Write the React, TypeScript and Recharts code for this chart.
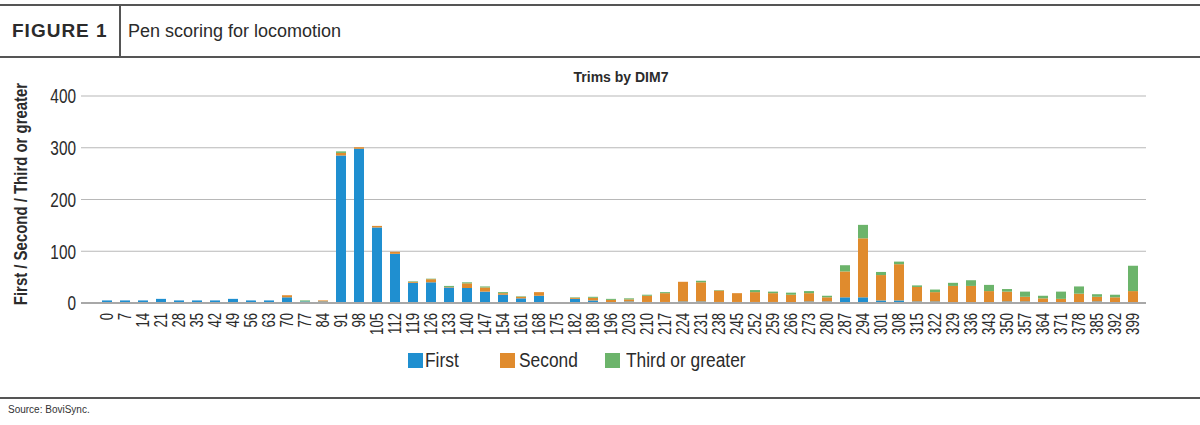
import React from "react";
import { BarChart, Bar, XAxis, YAxis, CartesianGrid, Legend, Label } from "recharts";

const categories = [
  "0","7","14","21","28","35","42","49","56","63","70","77","84","91","98","105","112","119","126","133",
  "140","147","154","161","168","175","182","189","196","203","210","217","224","231","238","245","252","259",
  "266","273","280","287","294","301","308","315","322","329","336","343","350","357","364","371","378","385","392","399",
];

const first = [
  5, 5, 5, 8, 5, 5, 5, 8, 5, 5, 11, 3, 3, 285, 298, 146, 95, 39, 40, 30,
  29, 22, 16, 9, 14, 0, 8, 5, 1, 3, 2, 2, 3, 3, 2, 2, 2, 2,
  1, 3, 3, 11, 11, 5, 5, 3, 3, 1, 1, 1, 3, 3, 0, 0, 1, 3, 0, 0,
];

const second = [
  0, 0, 0, 0, 0, 0, 0, 0, 0, 0, 4, 0, 2, 5, 3, 3, 4, 2, 6, 1,
  9, 8, 3, 3, 7, 0, 2, 5, 5, 4, 12, 17, 38, 37, 22, 17, 19, 17,
  15, 16, 8, 50, 114, 49, 70, 28, 18, 32, 32, 22, 19, 9, 9, 8, 17, 9, 11, 23,
];

const third = [
  0, 0, 0, 0, 0, 0, 0, 0, 0, 0, 0, 2, 0, 3, 0, 0, 0, 1, 1, 2,
  2, 2, 2, 1, 0, 0, 1, 2, 2, 2, 2, 2, 0, 3, 1, 0, 4, 3,
  4, 4, 3, 12, 26, 6, 5, 3, 5, 6, 11, 12, 5, 10, 5, 14, 14, 5, 5, 49,
];

const yTicks = [0, 100, 200, 300, 400];

const seriesNames = ["First", "Second", "Third or greater"];
const seriesColors = ["#1f8fd0", "#e08b2d", "#6cb46b"];

const data = categories.map((c, i) => ({
  dim: c,
  first: first[i],
  second: second[i],
  third: third[i],
}));

const SANS = "'Liberation Sans', Arial, sans-serif";
const INK = "#2b2b2b";

const XTick = (props: any) => {
  const { x, y, payload } = props;
  return (
    <text
      x={0}
      y={0}
      dy="0.35em"
      textAnchor="end"
      transform={`translate(${x}, ${y}) rotate(-90) scale(0.75, 1)`}
      fontFamily={SANS}
      fontSize={17.5}
      fill={INK}
    >
      {payload.value}
    </text>
  );
};

const YTick = (props: any) => {
  const { x, y, payload } = props;
  return (
    <text
      x={0}
      y={0}
      dy="0.36em"
      textAnchor="end"
      transform={`translate(${x}, ${y}) scale(0.75, 1)`}
      fontFamily={SANS}
      fontSize={20.5}
      fill={INK}
    >
      {payload.value}
    </text>
  );
};

const legendX = [[408, 425], [500, 519], [605, 626]];

const LegendContent = () => (
  <div style={{ position: "relative", width: 1200, height: 20 }}>
    {seriesNames.map((n, i) => (
      <React.Fragment key={n}>
        <div
          style={{
            position: "absolute",
            left: legendX[i][0],
            top: 3,
            width: 14.5,
            height: 14.5,
            background: seriesColors[i],
          }}
        />
        <div
          style={{
            position: "absolute",
            left: legendX[i][1],
            top: -1,
            fontFamily: SANS,
            fontSize: 19.5,
            lineHeight: "22px",
            color: INK,
            whiteSpace: "nowrap",
            transform: "scaleX(0.89)",
            transformOrigin: "0 0",
          }}
        >
          {n}
        </div>
      </React.Fragment>
    ))}
  </div>
);

const YLabel = () => (
  <text
    x={0}
    y={0}
    dy="0.35em"
    textAnchor="middle"
    transform="translate(21, 194) rotate(-90) scale(0.83, 1)"
    fontFamily={SANS}
    fontWeight="bold"
    fontSize={18}
    fill={INK}
  >
    First / Second / Third or greater
  </text>
);

export default function App() {
  return (
    <div style={{ position: "absolute", left: 0, top: 0, width: 1200, height: 425, background: "#fff", overflow: "hidden" }}>
      <div style={{ position: "absolute", left: 0, top: 4, width: 1200, height: 2, background: "#555" }} />
      <div style={{ position: "absolute", left: 0, top: 56, width: 1200, height: 2, background: "#555" }} />
      <div style={{ position: "absolute", left: 119, top: 5, width: 1.5, height: 52, background: "#555" }} />
      <div
        style={{
          position: "absolute",
          left: 12,
          top: 19,
          fontFamily: SANS,
          fontWeight: "bold",
          fontSize: 19,
          letterSpacing: 1,
          color: INK,
          lineHeight: "24px",
        }}
      >
        FIGURE 1
      </div>
      <div
        style={{
          position: "absolute",
          left: 128,
          top: 19,
          fontFamily: SANS,
          fontSize: 18,
          color: INK,
          lineHeight: "24px",
        }}
      >
        Pen scoring for locomotion
      </div>
      <div
        style={{
          position: "absolute",
          left: 521,
          width: 200,
          top: 68,
          textAlign: "center",
          fontFamily: SANS,
          fontWeight: "bold",
          fontSize: 14,
          color: INK,
          lineHeight: "18px",
        }}
      >
        Trims by DIM7
      </div>
      <div style={{ position: "absolute", left: 0, top: 397, width: 1200, height: 2, background: "#555" }} />
      <div
        style={{
          position: "absolute",
          left: 8,
          top: 404,
          fontFamily: SANS,
          fontSize: 10,
          color: "#333",
        }}
      >
        Source: BoviSync.
      </div>

      <div style={{ position: "absolute", left: 0, top: 0 }}>
        <BarChart
          width={1200}
          height={425}
          data={data}
          margin={{ top: 96, right: 54, bottom: 82, left: 21 }}
          barSize={10}
        >
          <CartesianGrid vertical={false} stroke="#b8b8b8" strokeWidth={1.2} />
          <XAxis
            dataKey="dim"
            interval={0}
            height={40}
            tickSize={0}
            tickMargin={10}
            tickLine={false}
            axisLine={{ stroke: "#a8a8a8", strokeWidth: 2 }}
            padding={{ left: 17, right: 4 }}
            tick={<XTick />}
          />
          <YAxis
            width={60}
            domain={[0, 400]}
            ticks={yTicks}
            interval={0}
            axisLine={false}
            tickLine={false}
            tickSize={0}
            tickMargin={5}
            tick={<YTick />}
          >
            <Label content={<YLabel />} />
          </YAxis>
          <Legend
            layout="horizontal"
            verticalAlign="middle"
            align="center"
            wrapperStyle={{ position: "absolute", top: 350, left: 0, width: 1200 }}
            content={<LegendContent />}
          />
          <Bar dataKey="first" name={seriesNames[0]} stackId="a" fill={seriesColors[0]} isAnimationActive={false} />
          <Bar dataKey="second" name={seriesNames[1]} stackId="a" fill={seriesColors[1]} isAnimationActive={false} />
          <Bar dataKey="third" name={seriesNames[2]} stackId="a" fill={seriesColors[2]} isAnimationActive={false} />
        </BarChart>
      </div>
    </div>
  );
}
